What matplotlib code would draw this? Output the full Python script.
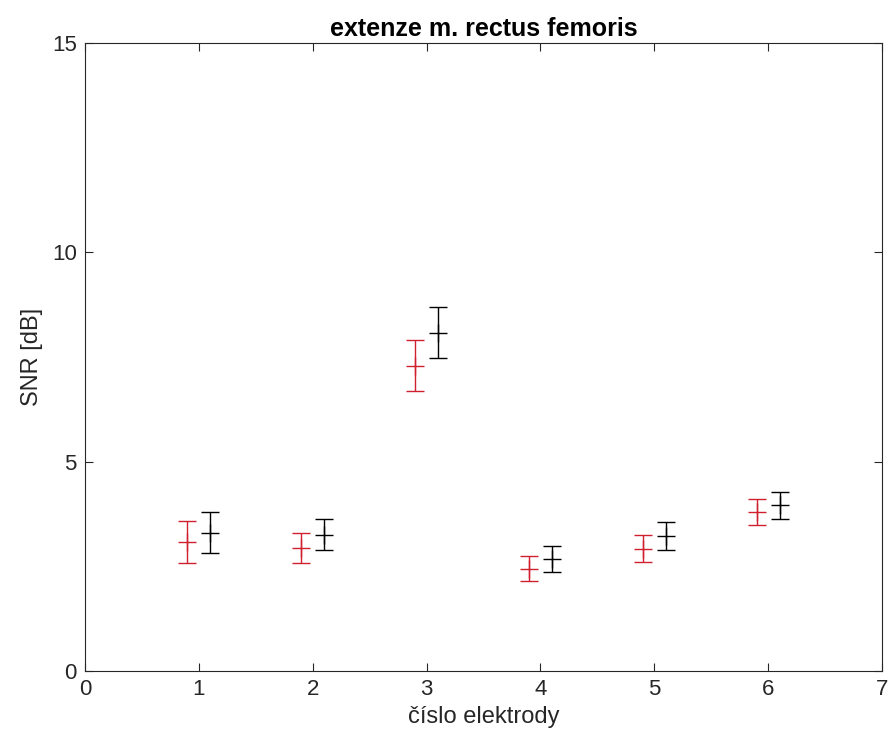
import matplotlib
matplotlib.use("Agg")
import matplotlib.pyplot as plt
import numpy as np

electrodes = [1, 2, 3, 4, 5, 6]
red_mean = [3.08, 2.94, 7.29, 2.44, 2.92, 3.80]
red_err = [0.50, 0.36, 0.61, 0.30, 0.32, 0.31]
black_mean = [3.30, 3.26, 8.08, 2.67, 3.23, 3.96]
black_err = [0.49, 0.36, 0.61, 0.31, 0.34, 0.32]

plt.rcParams['font.family'] = ['Liberation Sans', 'DejaVu Sans']

fig = plt.figure(figsize=(8.93, 7.52), dpi=100)
ax = fig.add_axes([0.0952, 0.1077, 0.8925, 0.8351])

x = np.array(electrodes, dtype=float)
ax.errorbar(x - 0.1, red_mean, yerr=red_err, fmt='+', color='#d0202e',
            ecolor='#d0202e', elinewidth=1.0, capsize=6.5, capthick=1.0,
            markersize=13, markeredgewidth=1.0)
ax.errorbar(x + 0.1, black_mean, yerr=black_err, fmt='+', color='black',
            ecolor='black', elinewidth=1.0, capsize=6.5, capthick=1.0,
            markersize=13, markeredgewidth=1.0)

ax.set_xlim(0, 7)
ax.set_ylim(0, 15)
ax.set_xticks(range(0, 8))
ax.set_yticks([0, 5, 10, 15])
ax.tick_params(direction='in', top=True, right=True, length=6, width=0.8,
               labelsize=16, colors='#262626', pad=6)
for s in ax.spines.values():
    s.set_color('#262626')
    s.set_linewidth(0.8)

ax.set_title('extenze m. rectus femoris', fontsize=18, fontweight='bold', pad=5)
ax.set_xlabel('číslo elektrody', fontsize=17, color='#262626', labelpad=4)
ax.set_ylabel('SNR [dB]', fontsize=17, color='#262626', labelpad=6)

fig.savefig('out.png', dpi=100)
